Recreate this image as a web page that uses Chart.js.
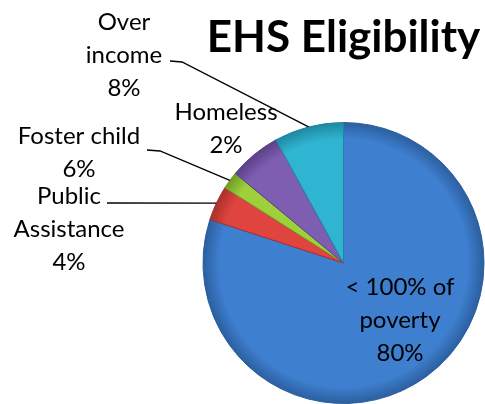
<!DOCTYPE html>
<html>
<head>
<meta charset="utf-8">
<script src="https://cdn.jsdelivr.net/npm/chart.js@4/dist/chart.umd.min.js"></script>
<style>
  body { margin: 0; background: #ffffff; }
  #wrap { width: 485px; height: 404px; }
</style>
</head>
<body>
<div id="wrap"><canvas id="ehsChart" width="485" height="404"></canvas></div>
<script>
// categories (line breaks as in the picture) and slice values
const categories = ["< 100% of\npoverty", "Public\nAssistance", "Foster child", "Homeless", "Over\nincome"];
const shares = [80, 4, 2, 6, 8];
// percentages as printed on the labels
const shownPct = ["80%", "4%", "6%", "2%", "8%"];

const baseColors = ["#3e7fcf", "#e0443e", "#9dd03b", "#7e5eb1", "#2fb4d1"];
const edgeColors = ["#2b5e9e", "#a8302c", "#6f9a25", "#5a3f85", "#1f86a0"];

// where each label sits (first line centre) and its leader elbow, if any
const labelSpots = [
  { x: 400, y: 287 },
  { x: 69, y: 196, from: [107, 203] },
  { x: 79, y: 136, from: [147, 150], elbow: [160, 151] },
  { x: 226, y: 112 },
  { x: 124, y: 22, from: [170, 61], elbow: [182, 62] }
];

function sliceFill(ctx) {
  const chart = ctx.chart;
  const area = chart.chartArea;
  const i = ctx.dataIndex;
  if (!area) return baseColors[i];
  const cx = (area.left + area.right) / 2;
  const cy = (area.top + area.bottom) / 2;
  const r = Math.min(area.width, area.height) / 2;
  const g = chart.ctx.createRadialGradient(cx, cy, 0, cx, cy, r);
  g.addColorStop(0, baseColors[i]);
  g.addColorStop(0.88, baseColors[i]);
  g.addColorStop(1, edgeColors[i]);
  return g;
}

const pieLabels = {
  id: "pieLabels",
  afterDatasetsDraw(chart) {
    const ctx = chart.ctx;
    const arcs = chart.getDatasetMeta(0).data;
    ctx.save();
    ctx.font = "24px Lato";
    ctx.fillStyle = "#000000";
    ctx.textAlign = "center";
    ctx.textBaseline = "middle";
    ctx.strokeStyle = "#000000";
    ctx.lineWidth = 1.3;
    labelSpots.forEach((spot, i) => {
      const lines = categories[i].split("\n").concat(shownPct[i]);
      lines.forEach((t, k) => ctx.fillText(t, spot.x, spot.y + k * 33));
      if (spot.from) {
        const a = arcs[i];
        const mid = (a.startAngle + a.endAngle) / 2;
        const ex = a.x + Math.cos(mid) * a.outerRadius;
        const ey = a.y + Math.sin(mid) * a.outerRadius;
        ctx.beginPath();
        ctx.moveTo(spot.from[0], spot.from[1]);
        if (spot.elbow) ctx.lineTo(spot.elbow[0], spot.elbow[1]);
        ctx.lineTo(ex, ey);
        ctx.stroke();
      }
    });
    ctx.restore();
  }
};

new Chart(document.getElementById("ehsChart"), {
  type: "pie",
  data: {
    labels: categories,
    datasets: [{
      data: shares,
      backgroundColor: sliceFill,
      borderColor: edgeColors,
      borderWidth: 1
    }]
  },
  options: {
    responsive: false,
    animation: false,
    layout: {
      padding: { left: 202, right: 0, top: 0, bottom: 0 }
    },
    plugins: {
      legend: { display: false },
      tooltip: { enabled: false },
      title: {
        display: true,
        text: "EHS Eligibility",
        font: { family: "Lato", size: 44, weight: "bold" },
        color: "#000000",
        padding: { top: 11, bottom: 58.2 }
      }
    }
  },
  plugins: [pieLabels]
});
</script>
</body>
</html>
